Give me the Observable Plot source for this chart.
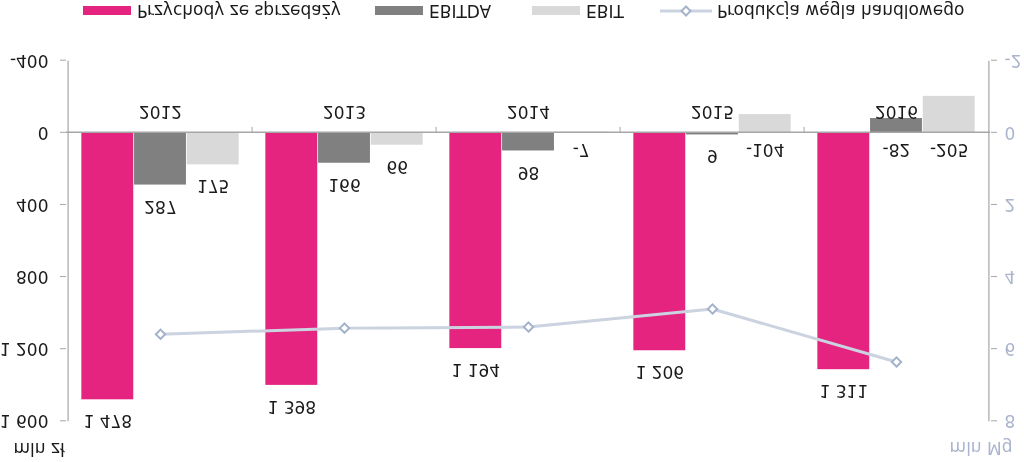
<!DOCTYPE html>
<html>
<head>
<meta charset="utf-8">
<script src="https://cdn.jsdelivr.net/npm/d3@7"></script>
<script src="https://cdn.jsdelivr.net/npm/@observablehq/plot@0.6"></script>
<style>
  html, body { margin: 0; padding: 0; background: #fff; overflow: hidden; }
  #root { position: relative; width: 1024px; height: 462px; transform: scaleY(-1); transform-origin: 50% 50%; font-family: "DejaVu Sans", sans-serif; color: #1a1a1a; }
  #chart { position: absolute; left: 0; top: 0; }
  #legend { position: absolute; left: 0; top: 440px; width: 1024px; height: 22px; font-size: 17px; }
  .item { position: absolute; top: 0; height: 22px; display: flex; align-items: center; white-space: nowrap; }
  .sw { display: inline-block; width: 48px; height: 9px; margin-right: 6px; }
</style>
</head>
<body>
<div id="root">
  <div id="chart"></div>
  <div id="legend"></div>
</div>
<script>
const years = ["2012", "2013", "2014", "2015", "2016"];
const revenue = [1478, 1398, 1194, 1206, 1311];
const ebitda = [287, 166, 98, 9, -82];
const ebit = [175, 66, -7, -104, -205];
const production = [5.6, 5.43, 5.4, 4.9, 6.37];
const leftTicks = [-400, 0, 400, 800, 1200, 1600];
const rightTicks = [-2, 0, 2, 4, 6, 8];
const seriesNames = ["Przychody ze sprzedaży", "EBITDA", "EBIT", "Produkcja węgla handlowego"];
const unitLeft = "mln zł";
const unitRight = "mln Mg";

const colors = { rev: "#e4247f", ebitda: "#808080", ebit: "#d9d9d9", line: "#cbd2e0", marker: "#a3b3cc", axis: "#a6a6a6", right: "#aab4cc", text: "#1a1a1a" };
const ratio = 200; // right axis unit -> left axis unit (2 <-> 400)

const fmt = v => String(v).replace(/\B(?=(\d{3})+(?!\d))/g, " ");

const rows = years.map((y, i) => ({ year: y, rev: revenue[i], ebitda: ebitda[i], ebit: ebit[i], prod: production[i] }));

const W = 1024, H = 430, mL = 66, mR = 34, mT = 40.7, mB = 28.7;
const band = (W - mL - mR) / years.length;
const bw = 52.7, pad = (band - 3 * bw) / 2;

const series = [
  { key: "rev", fill: colors.rev, off: 0 },
  { key: "ebitda", fill: colors.ebitda, off: 1 },
  { key: "ebit", fill: colors.ebit, off: 2 }
];

const marks = [];
series.forEach(s => {
  marks.push(Plot.barY(rows, { x: "year", y: s.key, fill: s.fill, insetLeft: pad + s.off * bw, insetRight: band - pad - (s.off + 1) * bw }));
});
// zero line and axis lines
marks.push(Plot.ruleY([0], { stroke: colors.axis, strokeWidth: 1.5 }));
marks.push(Plot.ruleX([years[0]], { x: d => d, dx: -band / 2, stroke: colors.axis, strokeWidth: 1.2 }));
marks.push(Plot.ruleX([years[years.length - 1]], { x: d => d, dx: band / 2, stroke: colors.axis, strokeWidth: 1.2 }));
// category separators on zero line
marks.push(Plot.ruleX(years.slice(1), { x: d => d, dx: -band / 2, y1: 0, y2: -33, stroke: colors.axis, strokeWidth: 1 }));
// axes
marks.push(Plot.axisY(leftTicks, { anchor: "left", tickFormat: fmt, tickSize: 6, tickPadding: 12, stroke: colors.axis, fill: colors.text, label: null }));
marks.push(Plot.axisY(rightTicks.map(d => d * ratio), { anchor: "right", tickFormat: d => String(d / ratio), tickSize: 6, tickPadding: 8, stroke: colors.axis, fill: colors.right, label: null }));
// year labels
marks.push(Plot.text(years, { x: d => d, y: 0, dy: 21, fill: colors.text }));
// value labels
series.forEach(s => {
  const dx = (s.off - 1) * bw;
  marks.push(Plot.text(rows.filter(r => r[s.key] >= 0), { x: "year", y: s.key, dx, dy: -22, text: r => fmt(r[s.key]), fill: colors.text }));
  marks.push(Plot.text(rows.filter(r => r[s.key] < 0), { x: "year", y: 0, dx, dy: -17, text: r => fmt(r[s.key]), fill: colors.text }));
});
// production line
marks.push(Plot.line(rows, { x: "year", y: d => d.prod * ratio, stroke: colors.line, strokeWidth: 3 }));
marks.push(Plot.dot(rows, { x: "year", y: d => d.prod * ratio, symbol: "diamond2", r: 4.2, stroke: colors.marker, fill: "white", strokeWidth: 2 }));
// unit labels
marks.push(Plot.text([unitLeft], { frameAnchor: "top-left", dx: 13 - mL, dy: 6 - mT, textAnchor: "start", fill: colors.text }));
marks.push(Plot.text([unitRight], { frameAnchor: "top-right", dx: 22, dy: 7 - mT, textAnchor: "end", fill: colors.right }));

const chart = Plot.plot({
  width: W, height: H,
  marginLeft: mL, marginRight: mR, marginTop: mT, marginBottom: mB,
  style: { fontFamily: "DejaVu Sans", fontSize: "17px", color: colors.text, background: "white", overflow: "visible" },
  x: { domain: years, type: "band", padding: 0, axis: null },
  y: { domain: [leftTicks[0], leftTicks[leftTicks.length - 1]], label: null },
  marks
});
document.getElementById("chart").appendChild(chart);

// legend
const legend = document.getElementById("legend");
const items = [
  { name: seriesNames[0], color: colors.rev, x: 83 },
  { name: seriesNames[1], color: colors.ebitda, x: 375 },
  { name: seriesNames[2], color: colors.ebit, x: 532 }
];
items.forEach(it => {
  const d = document.createElement("div");
  d.className = "item";
  d.style.left = it.x + "px";
  d.innerHTML = `<span class="sw" style="background:${it.color}"></span><span>${it.name}</span>`;
  legend.appendChild(d);
});
const li = document.createElement("div");
li.className = "item";
li.style.left = "660px";
li.innerHTML = `<svg width="52" height="14" style="margin-right:5px"><line x1="0" y1="7" x2="52" y2="7" stroke="${colors.line}" stroke-width="3"/><path d="M26 2.5 L30.5 7 L26 11.5 L21.5 7 Z" fill="white" stroke="${colors.marker}" stroke-width="2"/></svg><span>${seriesNames[3]}</span>`;
legend.appendChild(li);
</script>
</body>
</html>
